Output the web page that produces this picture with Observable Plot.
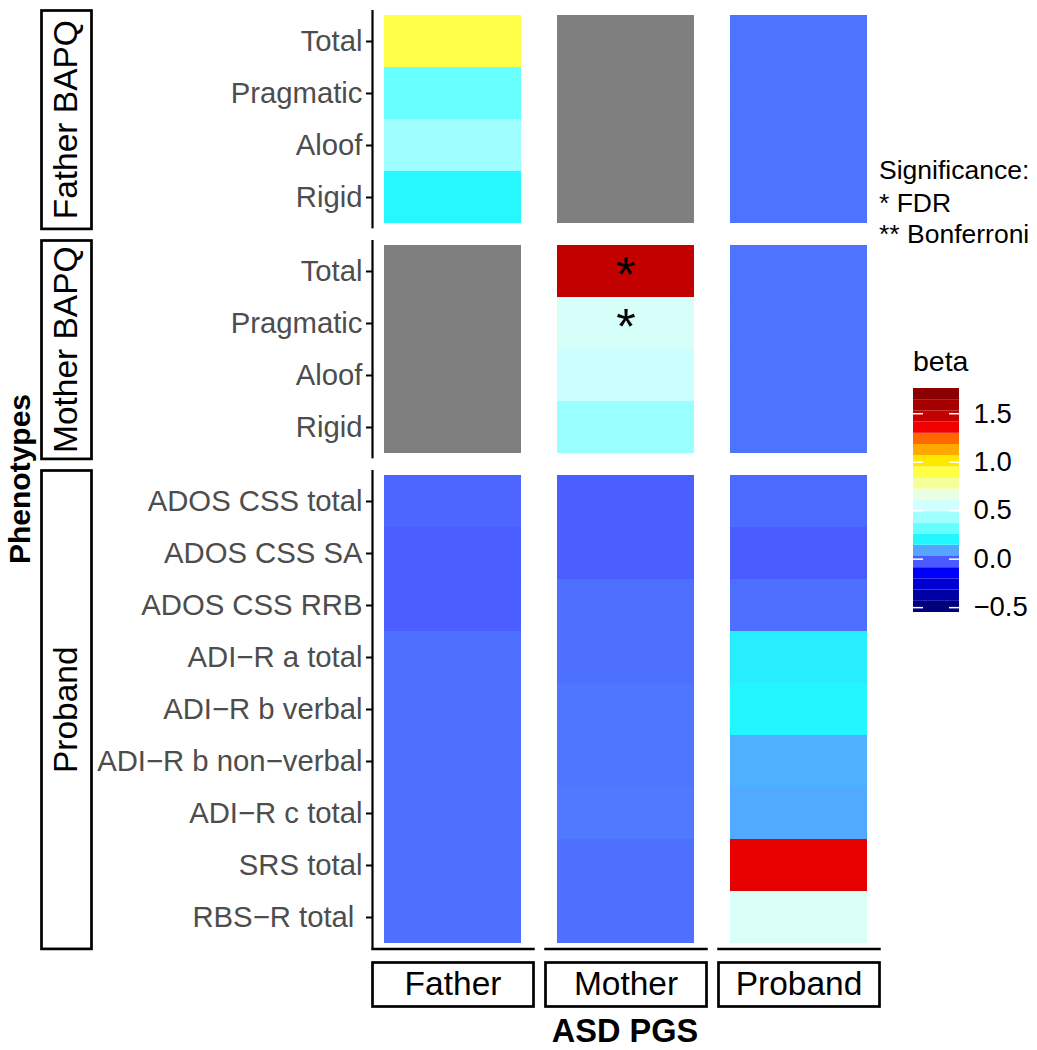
<!DOCTYPE html>
<html><head><meta charset="utf-8">
<script src="https://cdn.jsdelivr.net/npm/d3@7"></script>
<script src="https://cdn.jsdelivr.net/npm/@observablehq/plot@0.6"></script>
<style>
body{margin:0;background:#fff;}
#root{position:relative;width:1037px;height:1050px;font-family:"Liberation Sans",Arial,sans-serif;}
#root svg{position:absolute;overflow:visible;}
</style></head><body><div id="root"></div>
<script>
// ---------- data ----------
const pgsColumns = ["Father", "Mother", "Proband"];
const phenotypeGroups = ["Father BAPQ", "Mother BAPQ", "Proband"];
const phenotypeGroupOf = [
  "Father BAPQ","Father BAPQ","Father BAPQ","Father BAPQ",
  "Mother BAPQ","Mother BAPQ","Mother BAPQ","Mother BAPQ",
  "Proband","Proband","Proband","Proband","Proband","Proband","Proband","Proband","Proband"];
const phenotypes = [
  "Total","Pragmatic","Aloof","Rigid",
  "Total","Pragmatic","Aloof","Rigid",
  "ADOS CSS total","ADOS CSS SA","ADOS CSS RRB","ADI\u2212R a total","ADI\u2212R b verbal",
  "ADI\u2212R b non\u2212verbal","ADI\u2212R c total","SRS total","RBS\u2212R total\u00A0"];
const betaFatherPGS  = [0.89, 0.32, 0.43, 0.21, null, null, null, null,
  -0.012, -0.024, -0.024, 0.004, 0.004, 0.004, 0.004, 0.004, 0.004];
const betaMotherPGS  = [null, null, null, null, 1.48, 0.57, 0.53, 0.42,
  -0.024, -0.024, 0.004, 0.004, 0.013, 0.013, 0.018, 0.004, 0.004];
const betaProbandPGS = [0.008, 0.008, 0.008, 0.008, 0.008, 0.008, 0.008, 0.008,
  -0.006, -0.029, 0.002, 0.19, 0.201, 0.102, 0.093, 1.38, 0.58];
const sigFatherPGS  = ["","","","","","","","","","","","","","","","",""];
const sigMotherPGS  = ["","","","","*","*","","","","","","","","","","",""];
const sigProbandPGS = ["","","","","","","","","","","","","","","","",""];
const betaLimits = [-0.55, 1.76];
const legendTicks = [-0.5, 0, 0.5, 1, 1.5];
const significanceNotes = ["Significance:", "* FDR", "** Bonferroni"];
const xTitle = "ASD PGS";
const yTitle = "Phenotypes";
const legendTitle = "beta";

// ---------- style ----------
const palette = ["#00007A","#0000A5","#0000D0","#0000FA","#4A5AFF","#55A5FF","#22F6FF","#66FFFF",
  "#A0FFFF","#D2FFFF","#EBFFE4","#F4FF9C","#FFFF45","#FFE800","#FFA800","#FF6800",
  "#F00000","#C50000","#A50000","#8B0000"];
const FONT = '"Liberation Sans", Arial, sans-serif';
const nb = palette.length, lo = betaLimits[0], bw = (betaLimits[1] - betaLimits[0]) / nb;
const stops = palette.map((_, i) => lo + (i + 0.5) * bw);
const colorScale = {type: "linear", domain: stops, range: palette, interpolate: "rgb", clamp: true};
const baseStyle = {fontFamily: FONT, color: "black", background: "transparent", overflow: "visible"};

const records = [];
phenotypes.forEach((p, i) => {
  [["Father", betaFatherPGS, sigFatherPGS], ["Mother", betaMotherPGS, sigMotherPGS],
   ["Proband", betaProbandPGS, sigProbandPGS]].forEach(([col, b, s]) =>
    records.push({group: phenotypeGroupOf[i], phenotype: p, pgs: col, beta: b[i], sig: s[i]}));
});

const root = document.getElementById("root");
function place(el, left, y) { el.style.left = left + "px"; el.style.top = y + "px"; root.appendChild(el); }

const STEP = 52, GAP = 11.6, PANEL_TOP = 10, PLOT_LEFT = 371, PLOT_W = 890;
const STRIP_FONT = 33.5;
let yPos = PANEL_TOP;
phenotypeGroups.forEach((g, gi) => {
  const rows = phenotypes.filter((_, i) => phenotypeGroupOf[i] === g);
  const data = records.filter(d => d.group === g);
  const frameH = STEP * (rows.length + 0.2);
  const isLast = gi === phenotypeGroups.length - 1;
  const chart = Plot.plot({
    width: PLOT_W, height: frameH + 4,
    marginLeft: PLOT_LEFT, marginRight: 11, marginTop: 2, marginBottom: 2,
    style: baseStyle,
    fx: {domain: pgsColumns, paddingInner: 0.072, paddingOuter: 0, axis: null, label: null},
    x: {domain: [0, 1], axis: null},
    y: {domain: rows, paddingInner: 0, paddingOuter: 0.1, label: null},
    color: colorScale,
    marks: [
      Plot.cell(data.filter(d => d.beta != null), {fx: "pgs", y: "phenotype", fill: "beta", insetLeft: 12, insetRight: 12}),
      Plot.cell(data.filter(d => d.beta == null), {fx: "pgs", y: "phenotype", fill: "#7F7F7F", insetLeft: 12, insetRight: 12}),
      Plot.text(data.filter(d => d.sig), {fx: "pgs", y: "phenotype", text: "sig", fontSize: 50, dy: 5, fill: "black"}),
      Plot.axisY({tickSize: 6, tickPadding: 4, fontSize: 29.3, stroke: "black", strokeWidth: 2, fill: "#4D4D4D", label: null}),
      Plot.ruleX([0], {fx: () => pgsColumns[0], stroke: "black", strokeWidth: 2.2}),
      ...(isLast ? [Plot.frame({anchor: "bottom", stroke: "black", strokeWidth: 2.5})] : [])
    ]
  });
  place(chart, 0, yPos - 2);

  const strip = Plot.plot({
    width: 54, height: frameH + 4, margin: 2, style: baseStyle,
    marks: [
      Plot.frame({stroke: "black", strokeWidth: 2.7}),
      Plot.text([g], {text: d => d, frameAnchor: "middle", rotate: -90, fontSize: STRIP_FONT, fill: "black"})
    ]
  });
  place(strip, 39, yPos - 2);
  yPos += frameH + GAP;
});

// bottom strips
const colStrip = Plot.plot({
  width: PLOT_W, height: 48, marginLeft: PLOT_LEFT, marginRight: 11, marginTop: 2, marginBottom: 2,
  style: baseStyle,
  fx: {domain: pgsColumns, paddingInner: 0.072, paddingOuter: 0, axis: null, label: null},
  marks: [
    Plot.frame({stroke: "black", strokeWidth: 2.7}),
    Plot.text(pgsColumns, {fx: d => d, text: d => d, frameAnchor: "middle", fontSize: STRIP_FONT, fill: "black"})
  ]
});
place(colStrip, 0, 959.5);

// colour bar
const bins = d3.range(nb).map(i => ({y1: lo + i * bw, y2: lo + (i + 1) * bw, v: stops[i]}));
const bar = Plot.plot({
  width: 46 + 80, height: 224 + 20, marginLeft: 0, marginRight: 80, marginTop: 10, marginBottom: 10,
  style: baseStyle,
  y: {domain: betaLimits},
  color: colorScale,
  marks: [
    Plot.rect(bins, {y1: "y1", y2: "y2", fill: "v"}),
    Plot.ruleY(legendTicks, {stroke: "white", strokeWidth: 1.5, insetRight: 36}),
    Plot.ruleY(legendTicks, {stroke: "white", strokeWidth: 1.5, insetLeft: 36}),
    Plot.axisY({anchor: "right", ticks: legendTicks, tickSize: 0, tickPadding: 14, fontSize: 27.5,
      tickFormat: d3.format(".1f"), label: null, fill: "black"})
  ]
});
place(bar, 913, 377.7);

// titles & legend text
const ns = "http://www.w3.org/2000/svg";
const ov = document.createElementNS(ns, "svg");
ov.setAttribute("width", 1037); ov.setAttribute("height", 1050);
ov.style.left = "0px"; ov.style.top = "0px"; ov.style.pointerEvents = "none";
function txt(s, x, y, opts = {}) {
  const t = document.createElementNS(ns, "text");
  t.setAttribute("x", x); t.setAttribute("y", y);
  t.setAttribute("font-family", FONT);
  t.setAttribute("font-size", opts.size || 26.5);
  if (opts.bold) t.setAttribute("font-weight", "bold");
  if (opts.anchor) t.setAttribute("text-anchor", opts.anchor);
  if (opts.rotate) t.setAttribute("transform", `rotate(${opts.rotate},${x},${y})`);
  t.setAttribute("fill", "black");
  t.textContent = s;
  ov.appendChild(t);
}
txt(yTitle, 30, 479, {size: 30, bold: true, anchor: "middle", rotate: -90});
txt(xTitle, 625, 1042, {size: 32.5, bold: true, anchor: "middle"});
significanceNotes.forEach((s, i) => txt(s, 879, [179, 212, 243][i], {size: 26.5}));
txt(legendTitle, 913, 371, {size: 28.5});
root.appendChild(ov);
</script></body></html>
